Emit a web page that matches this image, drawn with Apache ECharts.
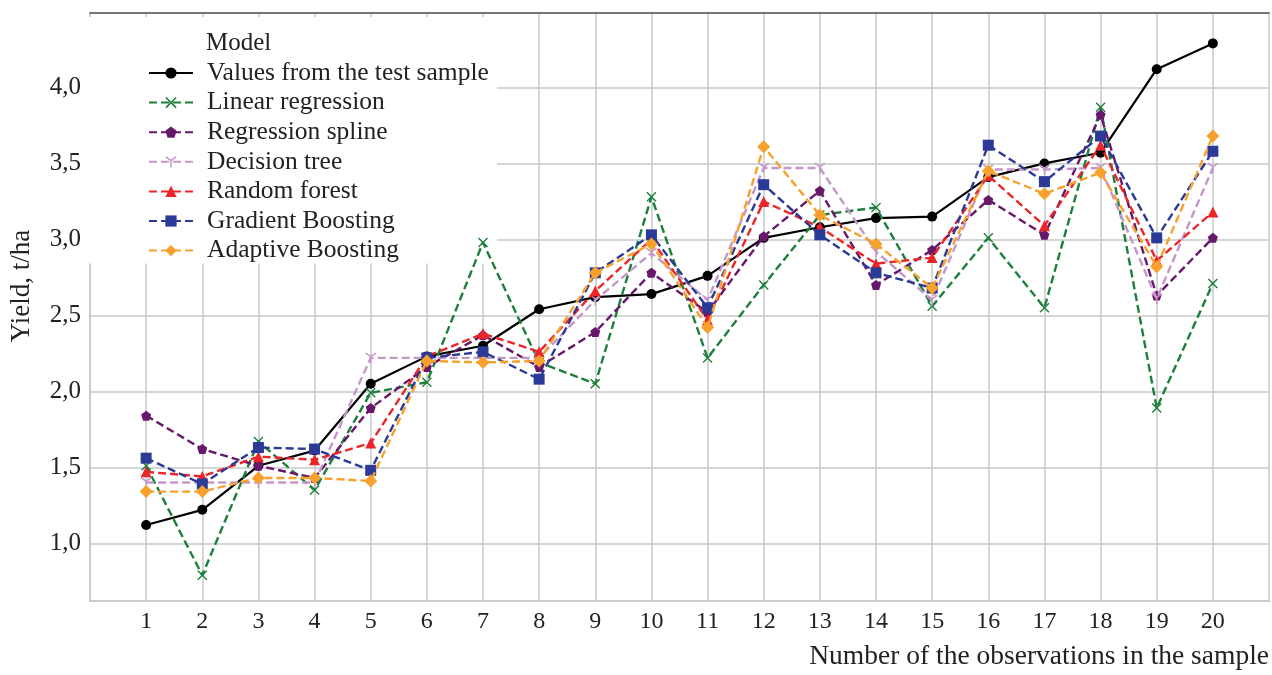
<!DOCTYPE html>
<html><head><meta charset="utf-8">
<script src="https://cdn.jsdelivr.net/npm/echarts@6/dist/echarts.min.js"></script>
<style>html,body{margin:0;padding:0;background:#fff}#c{width:1272px;height:675px}</style>
</head><body><div id="c"></div>
<script>
const observations = [1,2,3,4,5,6,7,8,9,10,11,12,13,14,15,16,17,18,19,20];
const yTickValues = [1.0,1.5,2.0,2.5,3.0,3.5,4.0];
const seriesNames = ['Values from the test sample','Linear regression','Regression spline','Decision tree','Random forest','Gradient Boosting','Adaptive Boosting'];
const testValues = [1.12,1.22,1.51,1.61,2.05,2.23,2.30,2.54,2.62,2.64,2.76,3.01,3.08,3.14,3.15,3.41,3.50,3.57,4.12,4.29];
const linearRegression = [1.51,0.79,1.67,1.35,1.99,2.06,2.98,2.19,2.05,3.28,2.22,2.70,3.16,3.21,2.56,3.01,2.55,3.87,1.89,2.71];
const regressionSpline = [1.84,1.62,1.51,1.43,1.89,2.16,2.37,2.16,2.39,2.78,2.52,3.02,3.32,2.70,2.93,3.26,3.03,3.82,2.63,3.01];
const decisionTree = [1.40,1.40,1.40,1.40,2.22,2.22,2.22,2.22,2.60,2.91,2.60,3.47,3.47,2.92,2.60,3.46,3.46,3.47,2.61,3.47];
const randomForest = [1.47,1.44,1.57,1.55,1.66,2.23,2.38,2.26,2.66,3.00,2.47,3.25,3.08,2.84,2.88,3.42,3.09,3.62,2.86,3.18];
const gradientBoosting = [1.56,1.39,1.63,1.62,1.48,2.22,2.26,2.08,2.78,3.03,2.55,3.36,3.03,2.78,2.68,3.62,3.38,3.68,3.01,3.58];
const adaptiveBoosting = [1.34,1.34,1.43,1.43,1.41,2.20,2.19,2.20,2.78,2.97,2.42,3.61,3.16,2.97,2.68,3.45,3.30,3.44,2.82,3.68];

const FONT = 'Liberation Serif';
const pts = arr => observations.map((x, i) => [x, arr[i]]);
const X_PATH = 'path://M1,0L5,4L9,0L10,1L6,5L10,9L9,10L5,6L1,10L0,9L4,5L0,1Z';
const Y_PATH = 'path://M4.4,10L5.6,10L5.6,5.4L9.6,3L9,2L5,4.4L1,2L0.4,3L4.4,5.4Z';
const PENT_PATH = 'path://M5,0L10,3.8L8.1,10L1.9,10L0,3.8Z';

const defs = [
  {data: testValues, color: '#000000', symbol: 'circle', size: 10, dashed: false},
  {data: linearRegression, color: '#1d7f3b', symbol: X_PATH, size: 10, dashed: true},
  {data: regressionSpline, color: '#66186b', symbol: PENT_PATH, size: 10, dashed: true},
  {data: decisionTree, color: '#c597c9', symbol: Y_PATH, size: 11, dashed: true},
  {data: randomForest, color: '#ec2528', symbol: 'triangle', size: 11, dashed: true},
  {data: gradientBoosting, color: '#2c3a97', symbol: 'rect', size: 11, dashed: true},
  {data: adaptiveBoosting, color: '#f7a02c', symbol: 'diamond', size: 13, dashed: true}
];

const series = defs.map((d, i) => ({
  name: seriesNames[i],
  type: 'line',
  data: pts(d.data),
  symbol: d.symbol,
  symbolSize: d.size,
  showAllSymbol: true,
  color: d.color,
  itemStyle: {color: d.color},
  lineStyle: {color: d.color, width: d.dashed ? 2.4 : 2.2, type: d.dashed ? [8, 4] : 'solid'},
  emphasis: {disabled: true},
  animation: false,
  z: 2 + i
}));

const chart = echarts.init(document.getElementById('c'), null, {renderer: 'canvas'});
chart.setOption({
  backgroundColor: '#ffffff',
  animation: false,
  grid: {left: 86, right: 1, top: 13, bottom: 74, show: true, borderColor: '#c8c8c8', borderWidth: 1.5, containLabel: false},
  title: {text: 'Model', left: 206, top: 31, textStyle: {fontFamily: FONT, fontSize: 25, fontWeight: 'normal', color: '#222'}, padding: 0, z: 10},
  legend: {
    orient: 'vertical', left: 88, top: 17,
    padding: [43, 8, 0, 60],
    backgroundColor: '#ffffff',
    itemWidth: 44, itemHeight: 14, itemGap: 3.6,
    textStyle: {fontFamily: FONT, fontSize: 25.5, lineHeight: 25, color: '#222', padding: [0, 0, 0, 9]},
    data: seriesNames,
    z: 1
  },
  xAxis: [{
    type: 'value', min: 0, max: 21,
    axisLine: {show: true, lineStyle: {color: '#c8c8c8', width: 1.5}},
    axisTick: {show: false, customValues: observations},
    axisLabel: {customValues: observations, fontFamily: FONT, fontSize: 24, color: '#222', margin: 9},
    splitLine: {show: true, lineStyle: {color: '#c8c8c8', width: 1.5}},
    name: 'Number of the observations in the sample',
    nameLocation: 'end', nameGap: 0,
    nameTextStyle: {fontFamily: FONT, fontSize: 27.5, color: '#222', align: 'right', verticalAlign: 'top', padding: [42, 0, 0, 0]}
  }, {
    type: 'value', min: 0, max: 21, position: 'top',
    axisLine: {show: true, lineStyle: {color: '#555', width: 1.5}},
    axisTick: {show: false}, axisLabel: {show: false}, splitLine: {show: false}
  }],
  yAxis: {
    type: 'value', min: 0.62, max: 4.49,
    axisLine: {show: true, lineStyle: {color: '#c8c8c8', width: 1.5}},
    axisTick: {show: false, customValues: yTickValues},
    axisLabel: {customValues: yTickValues, fontFamily: FONT, fontSize: 25, color: '#222', margin: 9,
      formatter: v => v.toFixed(1).replace('.', ',')},
    splitLine: {show: true, lineStyle: {color: '#c8c8c8', width: 1.5}},
    name: 'Yield, t/ha', nameLocation: 'middle', nameGap: 55, nameRotate: 90,
    nameTextStyle: {fontFamily: FONT, fontSize: 27, color: '#222', padding: [0, 0, 0, 42]}
  },
  series: series
});
</script>
</body></html>
